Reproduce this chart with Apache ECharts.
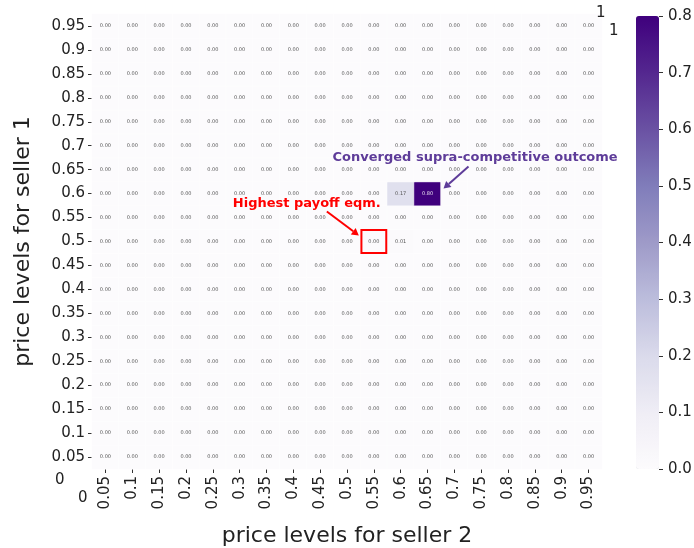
<!DOCTYPE html>
<html>
<head>
<meta charset="utf-8">
<script src="https://cdn.jsdelivr.net/npm/echarts@6/dist/echarts.min.js"></script>
<style>
html,body{margin:0;padding:0;background:#fff;}
#chart{width:694px;height:548px;}
</style>
</head>
<body>
<div id="chart"></div>
<script>
// price levels (x: seller 2, y: seller 1), bottom to top for y
var xLevels = ['0.05','0.1','0.15','0.2','0.25','0.3','0.35','0.4','0.45','0.5','0.55','0.6','0.65','0.7','0.75','0.8','0.85','0.9','0.95'];
var yLevels = ['0.05','0.1','0.15','0.2','0.25','0.3','0.35','0.4','0.45','0.5','0.55','0.6','0.65','0.7','0.75','0.8','0.85','0.9','0.95'];
// rows: y = 0.05 ... 0.95 ; columns: x = 0.05 ... 0.95
var freq = [
 [0,0,0,0,0,0,0,0,0,0,0,0,0,0,0,0,0,0,0],
 [0,0,0,0,0,0,0,0,0,0,0,0,0,0,0,0,0,0,0],
 [0,0,0,0,0,0,0,0,0,0,0,0,0,0,0,0,0,0,0],
 [0,0,0,0,0,0,0,0,0,0,0,0,0,0,0,0,0,0,0],
 [0,0,0,0,0,0,0,0,0,0,0,0,0,0,0,0,0,0,0],
 [0,0,0,0,0,0,0,0,0,0,0,0,0,0,0,0,0,0,0],
 [0,0,0,0,0,0,0,0,0,0,0,0,0,0,0,0,0,0,0],
 [0,0,0,0,0,0,0,0,0,0,0,0,0,0,0,0,0,0,0],
 [0,0,0,0,0,0,0,0,0,0,0,0,0,0,0,0,0,0,0],
 [0,0,0,0,0,0,0,0,0,0,0,0.01,0,0,0,0,0,0,0],
 [0,0,0,0,0,0,0,0,0,0,0,0,0,0,0,0,0,0,0],
 [0,0,0,0,0,0,0,0,0,0,0,0.17,0.80,0,0,0,0,0,0],
 [0,0,0,0,0,0,0,0,0,0,0,0,0,0,0,0,0,0,0],
 [0,0,0,0,0,0,0,0,0,0,0,0,0,0,0,0,0,0,0],
 [0,0,0,0,0,0,0,0,0,0,0,0,0,0,0,0,0,0,0],
 [0,0,0,0,0,0,0,0,0,0,0,0,0,0,0,0,0,0,0],
 [0,0,0,0,0,0,0,0,0,0,0,0,0,0,0,0,0,0,0],
 [0,0,0,0,0,0,0,0,0,0,0,0,0,0,0,0,0,0,0],
 [0,0,0,0,0,0,0,0,0,0,0,0,0,0,0,0,0,0,0]
];
var colorTicks = [0,0.1,0.2,0.3,0.4,0.5,0.6,0.7,0.8];
var supraCell = ['0.65','0.6'];
var eqmCell = ['0.55','0.5'];

var purples = ['#fcfbfd','#efedf5','#dadaeb','#bcbddc','#9e9ac8','#807dba','#6a51a3','#54278f','#3f007d'];
var FONT = 'DejaVu Sans';

var data = [];
for (var r = 0; r < yLevels.length; r++) {
  for (var c = 0; c < xLevels.length; c++) {
    var v = freq[r][c];
    data.push({value:[c, r, v], label:{color: v > 0.5 ? '#e8e0f0' : '#555'}});
  }
}

var chart = echarts.init(document.getElementById('chart'), null, {renderer:'canvas'});
var option = {
  backgroundColor:'#fff',
  animation:false,
  grid:[
    {left:92, right:92, top:14, bottom:79, outerBoundsMode:'none', containLabel:false},
    {left:659, width:30, top:16, bottom:79, outerBoundsMode:'none', containLabel:false}
  ],
  xAxis:[
    {type:'category', data:xLevels, gridIndex:0,
     axisLine:{show:false}, axisTick:{show:true, length:4, alignWithLabel:true, lineStyle:{color:'#333'}},
     axisLabel:{rotate:90, fontSize:15, color:'#222', fontFamily:FONT, margin:7, interval:0},
     splitLine:{show:false},
     name:'price levels for seller 2', nameLocation:'middle', nameGap:56,
     nameTextStyle:{fontSize:22, color:'#222', fontFamily:FONT}},
    {type:'value', gridIndex:1, min:0, max:1, show:false}
  ],
  yAxis:[
    {type:'category', data:yLevels, gridIndex:0,
     axisLine:{show:false}, axisTick:{show:true, length:4, alignWithLabel:true, lineStyle:{color:'#333'}},
     axisLabel:{fontSize:15, color:'#222', fontFamily:FONT, margin:7, interval:0},
     splitLine:{show:false},
     name:'price levels for seller 1', nameLocation:'middle', nameGap:58,
     nameTextStyle:{fontSize:22, color:'#222', fontFamily:FONT}},
    {type:'value', gridIndex:1, min:0, max:0.8, interval:0.1, position:'left', z:10,
     axisLine:{show:false}, axisTick:{show:true, inside:true, length:4, lineStyle:{color:'#333'}},
     splitLine:{show:false},
     axisLabel:{inside:true, fontSize:15, color:'#222', fontFamily:FONT, margin:9,
       formatter:function(v){return v.toFixed(1);}}}
  ],
  visualMap:{
    type:'continuous', min:0, max:0.8, seriesIndex:0, calculable:false, hoverLink:false,
    left:636, top:16, itemWidth:23, itemHeight:453, padding:0, text:['',''],
    inRange:{color:purples}
  },
  series:[
    {type:'heatmap', xAxisIndex:0, yAxisIndex:0, data:data,
     itemStyle:{borderColor:'#fff', borderWidth:0.5},
     label:{show:true, fontSize:5, fontFamily:FONT,
       formatter:function(p){return p.value[2].toFixed(2);}},
     emphasis:{disabled:true}}
  ]
};
chart.setOption(option);

function arrow(x1,y1,x2,y2,color,w,hl,hw){
  var ang = Math.atan2(y2-y1, x2-x1);
  var bx = x2 - hl*Math.cos(ang), by = y2 - hl*Math.sin(ang);
  var px = -Math.sin(ang)*hw, py = Math.cos(ang)*hw;
  return [
    {type:'line', z:100, shape:{x1:x1,y1:y1,x2:bx,y2:by}, style:{stroke:color, lineWidth:w}, silent:true},
    {type:'polygon', z:100, shape:{points:[[x2,y2],[bx+px,by+py],[bx-px,by-py]]}, style:{fill:color}, silent:true}
  ];
}

var pS = chart.convertToPixel({xAxisIndex:0, yAxisIndex:0}, supraCell);
var pE = chart.convertToPixel({xAxisIndex:0, yAxisIndex:0}, eqmCell);
var cw = (694-92-92)/xLevels.length, ch = (548-14-79)/yLevels.length;
var purple = '#5e3c99';
var g = [];
g.push({type:'text', z:100, x:pS[0]-95, y:pS[1]-42, style:{text:'Converged supra-competitive outcome', fill:purple, font:'bold 13px "DejaVu Sans"'}, silent:true});
g = g.concat(arrow(pS[0]+41, pS[1]-27, pS[0]+16, pS[1]-5, purple, 2, 7, 4));
g.push({type:'rect', z:100, shape:{x:pE[0]-cw/2+1, y:pE[1]-ch/2+0.5, width:cw-2, height:ch-1}, style:{fill:null, stroke:'#ff0000', lineWidth:2}, silent:true});
g.push({type:'text', z:100, x:pE[0]-141, y:pE[1]-44, style:{text:'Highest payoff eqm.', fill:'#ff0000', font:'bold 13px "DejaVu Sans"'}, silent:true});
g = g.concat(arrow(pE[0]-47, pE[1]-30, pE[0]-15, pE[1]-6, '#ff0000', 2, 7, 4));
// stray labels present in the original figure
g.push({type:'text', z:100, x:55, y:473, style:{text:'0', fill:'#222', font:'15px "DejaVu Sans"'}, silent:true});
g.push({type:'text', z:100, x:78, y:491, style:{text:'0', fill:'#222', font:'15px "DejaVu Sans"'}, silent:true});
g.push({type:'text', z:100, x:596, y:6, style:{text:'1', fill:'#222', font:'15px "DejaVu Sans"'}, silent:true});
g.push({type:'text', z:100, x:609, y:24, style:{text:'1', fill:'#222', font:'15px "DejaVu Sans"'}, silent:true});
chart.setOption({graphic:{elements:g}});
</script>
</body>
</html>
